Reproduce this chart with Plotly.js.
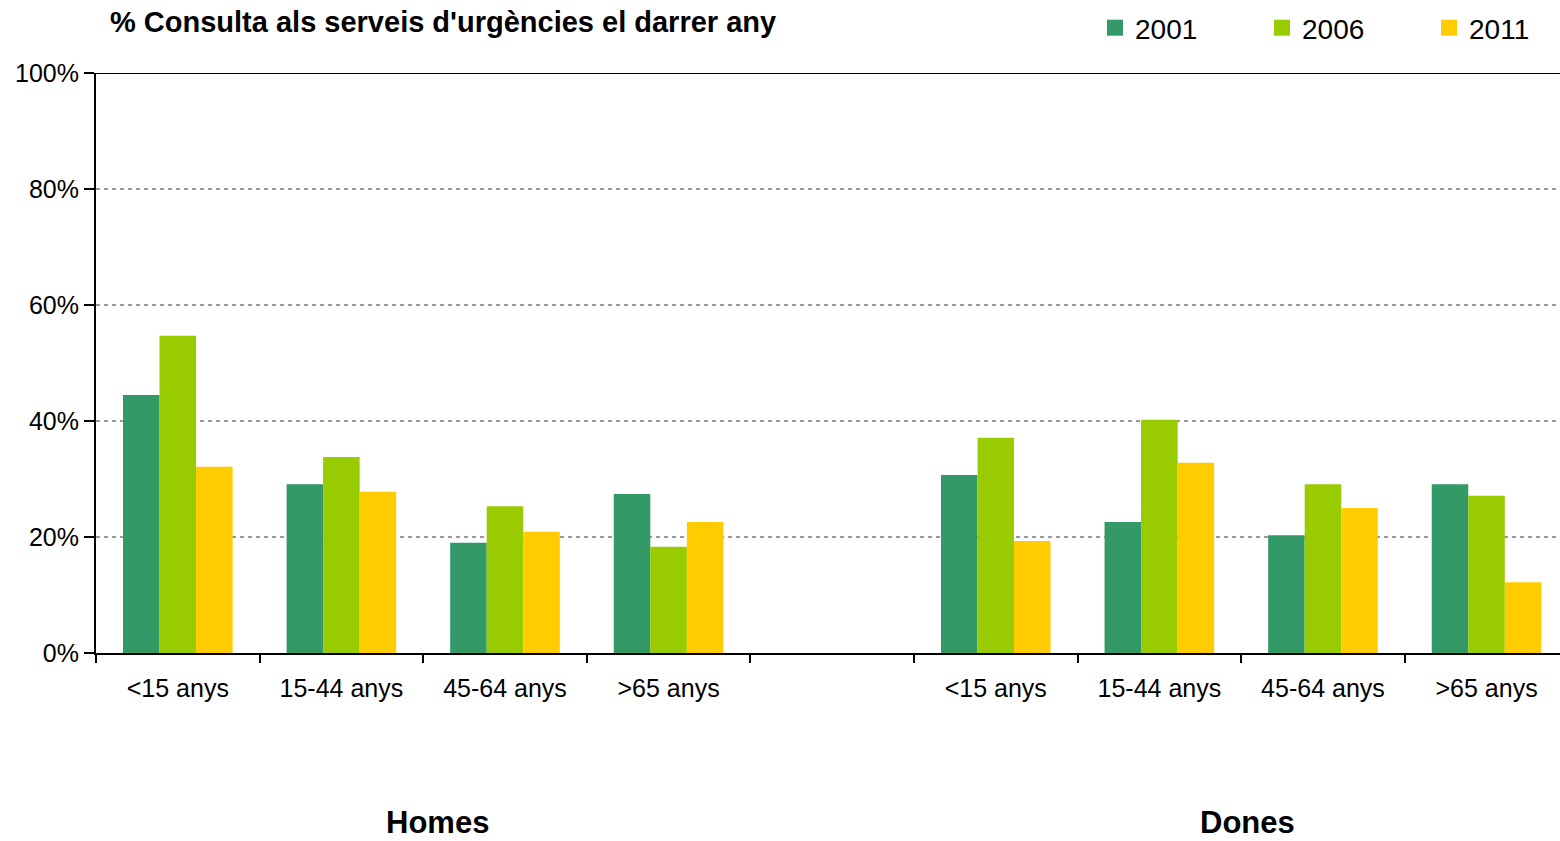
<!DOCTYPE html>
<html><head><meta charset="utf-8">
<script src="https://cdn.plot.ly/plotly-3.0.1.min.js"></script>
<style>html,body{margin:0;padding:0;background:#fff}#chart{width:1560px;height:841px}</style>
</head><body><div id="chart"></div>
<script>
const categories = ["<15 anys","15-44 anys","45-64 anys",">65 anys","","<15 anys","15-44 anys","45-64 anys",">65 anys"];
const years = ["2001","2006","2011"];
const colors = ["#339966","#99CC00","#FFCC00"];
const v2001 = [44.5, 29.1, 19.0, 27.4, null, 30.7, 22.6, 20.3, 29.1];
const v2006 = [54.7, 33.8, 25.3, 18.3, null, 37.1, 40.2, 29.1, 27.1];
const v2011 = [32.1, 27.8, 20.9, 22.6, null, 19.3, 32.8, 25.0, 12.2];
const groups = ["Homes","Dones"];
const groupPos = [1.59, 6.54];
const title = "% Consulta als serveis d'urgències el darrer any";

const xs = categories.map((c,i)=>i);
const series = [v2001, v2006, v2011];
const traces = series.map((vals,k)=>({
  type:'bar', x: xs, y: vals, name: years[k], showlegend:false,
  marker:{color: colors[k], line:{width:0}},
  hoverinfo:'y'
}));
// legend entries (square swatches)
years.forEach((y,k)=>traces.push({
  type:'scatter', mode:'markers', x:[null], y:[null], name:y, showlegend:true,
  marker:{symbol:'square', size:20, color:colors[k], line:{width:0}}
}));
const F = 'Liberation Sans, Arial, sans-serif';
const layout = {
  width:1560, height:841,
  margin:{l:96, r:0, t:73, b:188},
  paper_bgcolor:'#fff', plot_bgcolor:'#fff',
  barmode:'group', bargap:0.33, bargroupgap:0,
  font:{family:F, color:'#000', size:25},
  title:{text:'<b>'+title+'</b>', x:110/1560, xanchor:'left', y:1-22/841, yanchor:'middle', font:{family:F, size:29, color:'#000'}},
  showlegend:true,
  legend:{orientation:'h', x:1095/1560, xref:'container', y:1-28/841, yref:'container', yanchor:'middle', xanchor:'left',
    font:{family:F, size:28, color:'#000'}, entrywidth:122, itemwidth:30, bgcolor:'rgba(0,0,0,0)', traceorder:'normal'},
  xaxis:{
    range:[-0.5, 8.449], tickmode:'array', tickvals: xs, ticktext: categories,
    ticks:'', showgrid:false, zeroline:false, showline:true, linecolor:'#000', linewidth:2,
    tickfont:{family:F, size:25, color:'#000'}, ticklabelstandoff:12,
    minor:{tickmode:'linear', tick0:-0.5, dtick:1, ticks:'outside', ticklen:8, tickwidth:2, tickcolor:'#000', showgrid:false},
    fixedrange:true
  },
  yaxis:{
    range:[0,100], tickmode:'linear', tick0:0, dtick:20, ticksuffix:'%',
    ticks:'outside', ticklen:10, tickwidth:2, tickcolor:'#000',
    showline:true, linecolor:'#000', linewidth:2, mirror:false,
    showgrid:true, gridcolor:'#999', griddash:'4px,4px', gridwidth:2, zeroline:false,
    tickfont:{family:F, size:25, color:'#000'}, fixedrange:true
  },
  shapes:[{type:'line', xref:'paper', yref:'y', x0:0, x1:1, y0:100, y1:100, line:{color:'#000', width:2}}],
  annotations: groups.map((g,i)=>({
    text:'<b>'+g+'</b>', x:groupPos[i], xref:'x', y:0, yref:'paper', yanchor:'middle', xanchor:'center',
    showarrow:false, borderpad:0, font:{family:F, size:31, color:'#000'}
  }))
};
const plotH = 841-73-188;
layout.annotations.forEach(a=>{ a.y = (653-822)/plotH; });
Plotly.newPlot('chart', traces, layout, {displayModeBar:false, staticPlot:true});
</script></body></html>
